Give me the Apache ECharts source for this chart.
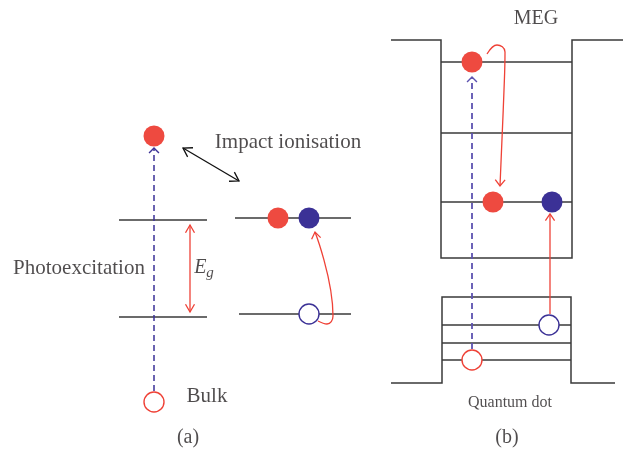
<!DOCTYPE html>
<html><head><meta charset="utf-8">
<script src="https://cdn.jsdelivr.net/npm/echarts@6/dist/echarts.min.js"></script>
<style>html,body{margin:0;padding:0;background:#fff}#c{width:625px;height:452px}</style>
</head><body><div id="c"></div>
<script>
// Diagram geometry in the picture's own coordinates (x right, y down)
const blackPolylines = [
  [[119,220],[207,220]],
  [[119,317],[207,317]],
  [[235,218],[351,218]],
  [[239,314],[351,314]],
  [[391,40],[441,40],[441,258],[572,258],[572,40],[623,40]],
  [[441,62],[572,62]],
  [[441,133],[572,133]],
  [[441,202],[572,202]],
  [[391,383],[442,383],[442,297],[571,297],[571,383],[615,383]],
  [[442,325],[571,325]],
  [[442,343],[571,343]],
  [[442,360],[571,360]]
];
const blackArrow = [[183,148],[239,181]];          // double headed
const egArrow = [[190,225],[190,312]];             // double headed, red
const blueDashedA = [[154,391],[154,148]];         // head at end
const blueDashedB = [[472,349],[472,77]];          // head at end
const redStraightB = [[550,314],[550,214]];        // head at end
const redCurveA = [[318,321],[327,324],[333,316],[315,232]];
const redCurveB = [[487,54],[497,45],[505,52],[504,90],[500,186]];

const filledRed = [[154,136],[278,218],[472,62],[493,202]];
const filledBlue = [[309,218],[552,202]];
const openBlue = [[309,314],[549,325]];
const openRed = [[154,402],[472,360]];

const textLabels = [
  {name:'Impact ionisation', pos:[288,142], size:21},
  {name:'Photoexcitation', pos:[79,268], size:21},
  {name:'Bulk', pos:[207,396], size:21},
  {name:'(a)', pos:[188,438], size:20},
  {name:'MEG', pos:[536,19], size:20},
  {name:'Quantum dot', pos:[510,403], size:16},
  {name:'(b)', pos:[507,438], size:20}
];
const egLabel = {pos:[204,268]};

const BLACK = '#3a3a3a', RED = '#ef4136', BLUE = '#3b3196', BLUEL = '#5c52b0', TXT = '#231f20';
const SERIF = '"Liberation Serif","DejaVu Serif",serif';

function chevron(tip, from, len, ang){
  const dx = tip[0]-from[0], dy = tip[1]-from[1];
  const L = Math.hypot(dx,dy); const ux = dx/L, uy = dy/L;
  const arm = s => { const c=Math.cos(s*ang), si=Math.sin(s*ang);
    const rx = ux*c - uy*si, ry = ux*si + uy*c; return [tip[0]-len*rx, tip[1]-len*ry]; };
  return [arm(1), tip, arm(-1)];
}
function linesSeries(polys, color, width, type){
  return {type:'lines', coordinateSystem:'cartesian2d', polyline:true, silent:true, z:2,
    lineStyle:{color:color, width:width, type:type||'solid', opacity:1},
    data: polys.map(p=>({coords:p}))};
}
function curveSeries(pts, color){
  return {type:'line', data:pts, smooth:0.45, symbol:'none', silent:true, z:2,
    lineStyle:{color:color, width:1.3}};
}
function dotSeries(pts, fill, stroke, size){
  return {type:'scatter', data:pts, symbol:'circle', symbolSize:size, silent:true, z:5,
    itemStyle:{color:fill, borderColor:stroke, borderWidth: fill==='#fff'?1.4:0, opacity:1}};
}

const deg = Math.PI/180;
const heads = {
  black: [chevron(blackArrow[1], blackArrow[0], 10, 32*deg), chevron(blackArrow[0], blackArrow[1], 10, 32*deg)],
  red: [chevron(egArrow[1], egArrow[0], 9, 30*deg), chevron(egArrow[0], egArrow[1], 9, 30*deg),
        chevron(redStraightB[1], redStraightB[0], 8, 35*deg),
        chevron(redCurveA[3], [redCurveA[3][0]+3.5, redCurveA[3][1]+20], 8, 35*deg),
        chevron(redCurveB[4], [redCurveB[4][0]+0.6, redCurveB[4][1]-20], 8, 38*deg)],
  blue: [chevron(blueDashedA[1], blueDashedA[0], 7, 45*deg)],
  blueL: [chevron(blueDashedB[1], blueDashedB[0], 7, 45*deg)]
};

const chart = echarts.init(document.getElementById('c'), null, {renderer:'canvas'});
chart.setOption({
  animation:false,
  backgroundColor:'#fff',
  grid:{left:0, right:0, top:0, bottom:0},
  xAxis:{type:'value', min:0, max:625, show:false},
  yAxis:{type:'value', min:0, max:452, inverse:true, show:false},
  series:[
    linesSeries(blackPolylines, BLACK, 1.5),
    linesSeries([blackArrow], '#111', 1.3),
    linesSeries(heads.black, '#111', 1.3),
    linesSeries([egArrow, redStraightB], RED, 1.3),
    linesSeries(heads.red, RED, 1.3),
    linesSeries([blueDashedA], BLUE, 1.5, [6,4]),
    linesSeries(heads.blue, BLUE, 1.4),
    linesSeries([blueDashedB], BLUEL, 1.8, [6,4]),
    linesSeries(heads.blueL, BLUEL, 1.4),
    curveSeries(redCurveA, RED),
    curveSeries(redCurveB, RED),
    dotSeries(filledRed, '#ee4a40', null, 21),
    dotSeries(filledBlue, BLUE, null, 21),
    dotSeries(openBlue, '#fff', BLUE, 20),
    dotSeries(openRed, '#fff', RED, 20),
    {type:'scatter', symbolSize:0, silent:true, z:6,
     data: textLabels.map(t=>({value:t.pos, name:t.name, label:{fontSize:t.size}})),
     label:{show:true, position:'inside', formatter:p=>p.name, color:TXT, fontFamily:SERIF, fontSize:18}},
    {type:'scatter', symbolSize:0, silent:true, z:6,
     data:[{value:egLabel.pos, name:'Eg'}],
     label:{show:true, position:'inside', formatter:'{e|E}{g|g}', color:TXT,
       rich:{e:{fontFamily:SERIF, fontStyle:'italic', fontSize:20, color:TXT},
             g:{fontFamily:SERIF, fontStyle:'italic', fontSize:15, color:TXT, padding:[10,0,0,0]}}}}
  ]
});
</script></body></html>
